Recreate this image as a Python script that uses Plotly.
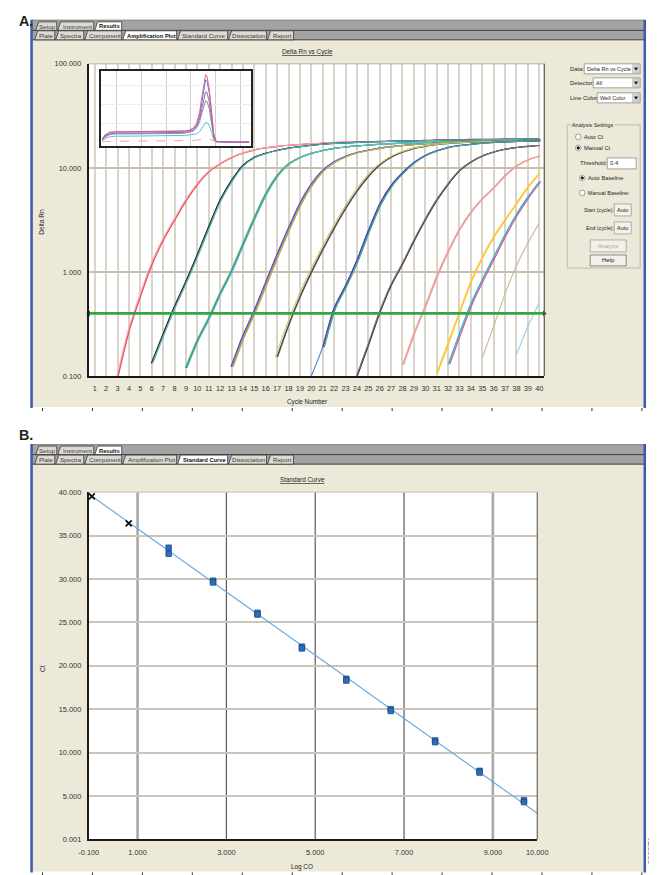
import plotly.graph_objects as go

W, H = 657, 875
FONT = "Liberation Sans, Arial, sans-serif"

# ---------------- data: amplification plot (Delta Rn vs cycle) ----------------
cycle_ticks = list(range(1, 41))
cycle_range = [0.47, 40.44]
threshold_rn = 0.4
rn_ticks = [0.1, 1, 10, 100]
rn_tick_text = ["0.100", "1.000", "10.000", "100.000"]

start_g1 = 3
rn_g1 = [0.10, 0.28, 0.60, 1.20, 2.05, 3.20, 4.90, 7.00, 9.20, 11.0, 12.6, 13.9, 14.9, 15.6,
         16.1, 16.5, 16.8, 17.1, 17.3, 17.5, 17.7, 17.8, 17.9, 18.0, 18.1, 18.2, 18.3, 18.4,
         18.5, 18.6, 18.7, 18.8, 18.8, 18.9, 19.0, 19.0, 19.1, 19.2]
col_g1 = ["#F07C7C", "#E84848", "#F5A3B5"]
dct_g1 = [0.0, 0.06, -0.05]

start_g2 = 6
rn_g2 = [0.133, 0.25, 0.46, 0.80, 1.45, 2.69, 4.85, 7.5, 10.5, 12.6, 13.8, 14.7, 15.5, 16.0,
         16.5, 16.9, 17.2, 17.4, 17.6, 17.8, 17.9, 18.0, 18.1, 18.2, 18.3, 18.4, 18.5, 18.5,
         18.6, 18.7, 18.7, 18.8, 18.8, 18.9, 18.9]
col_g2 = ["#23308A", "#F0A040", "#2E2E2E", "#3CB8C8"]
dct_g2 = [0.0, 0.05, -0.04, 0.08]

start_g3 = 9
rn_g3 = [0.12, 0.22, 0.36, 0.62, 1.03, 1.85, 3.3, 5.6, 8.4, 10.9, 12.6, 13.8, 14.7, 15.4,
         15.9, 16.3, 16.6, 16.9, 17.1, 17.3, 17.5, 17.6, 17.7, 17.8, 17.9, 18.0, 18.0, 18.1,
         18.1, 18.2, 18.2, 18.3]
col_g3 = ["#2A9D9A", "#3858C0", "#60B848", "#5CC0D8"]
dct_g3 = [0.0, 0.05, -0.05, 0.1]

start_g4 = 13
rn_g4 = [0.123, 0.24, 0.42, 0.78, 1.45, 2.6, 4.5, 6.9, 9.4, 11.4, 12.9, 14.0, 14.8, 15.5,
         16.0, 16.4, 16.8, 17.1, 17.3, 17.5, 17.7, 17.9, 18.0, 18.1, 18.2, 18.3, 18.4, 18.5]
col_g4 = ["#5A3C98", "#58B058", "#3A58C8", "#D868A8", "#A8C040"]
dct_g4 = [0.0, 0.1, -0.05, 0.05, 0.15]

start_g5 = 17
rn_g5 = [0.153, 0.31, 0.58, 1.0, 1.65, 2.65, 4.1, 6.0, 8.3, 10.7, 12.7, 14.2, 15.4, 16.2,
         16.8, 17.2, 17.5, 17.7, 17.9, 18.0, 18.1, 18.2, 18.3, 18.4]
col_g5 = ["#3A3A3A", "#6A4A6A", "#B8D060"]
dct_g5 = [0.0, 0.05, -0.15]

start_g6 = 20
rn_g6 = [0.10, 0.19, 0.45, 0.74, 1.3, 2.5, 4.5, 6.8, 9.0, 11.3, 13.2, 14.6, 15.7, 16.4,
         16.9, 17.3, 17.6, 17.8, 18.0, 18.1, 18.2]
col_g6 = ["#4C8CD8", "#3848B0", "#7048A8", "#38B088"]
dct_g6 = [0.0, 0.0, 0.06, 0.15]
skip_g6 = [0, 1, 1, 1]

start_g7 = 24
rn_g7 = [0.10, 0.20, 0.41, 0.75, 1.2, 2.0, 3.2, 4.9, 7.0, 9.4, 11.4, 13.0, 14.2, 15.1,
         15.7, 16.1, 16.4]
col_g7 = ["#1E1E1E", "#4A3452", "#7A7A7A"]
dct_g7 = [0.0, 0.04, -0.04]

start_g8 = 28
rn_g8 = [0.128, 0.26, 0.48, 0.92, 1.6, 2.6, 3.8, 5.1, 6.5, 8.5, 10.5, 12.0, 13.0]
col_g8 = ["#F5B060", "#D8A0D8", "#F29C9C"]
dct_g8 = [0.0, 0.1, 0.05]

start_g9 = 31
rn_g9 = [0.107, 0.21, 0.42, 0.82, 1.4, 2.2, 3.2, 4.6, 6.6, 8.9]
col_g9 = ["#F8D048", "#FFC020"]
dct_g9 = [0.0, 0.08]

start_g10 = 32
rn_g10 = [0.13, 0.26, 0.50, 0.85, 1.4, 2.3, 3.6, 5.3, 7.4]
col_g10 = ["#48C0C8", "#E04898", "#58A8B8"]
dct_g10 = [0.0, 0.15, 0.05]

start_g11 = 35
rn_g11 = [0.15, 0.30, 0.62, 1.15, 1.9, 2.96]
col_g11 = ["#C8B890"]
dct_g11 = [0.0]

start_g12 = 38
rn_g12 = [0.16, 0.30, 0.51]
col_g12 = ["#90D4E0"]
dct_g12 = [0.0]

# ---------------- data: inset (raw signal thumbnail) ----------------
inset_x = [1, 3, 6, 10, 20, 30, 40, 50, 56, 59, 62, 64, 66, 67.5, 69, 70, 71, 72.5, 74, 75.5, 77, 85, 99]
ins_a = [8, 14, 18, 19, 19, 19, 19, 19.5, 20, 21, 24, 30, 45, 65, 85, 95, 92, 75, 45, 15, 6, 5, 5]
ins_b = [9, 15, 18, 18.5, 18.5, 18.5, 18.5, 19, 19.5, 20.5, 23, 28, 40, 58, 78, 88, 86, 70, 42, 14, 6, 5, 5]
ins_c = [8, 13, 16, 17, 17, 17, 17, 17.5, 18, 19, 21, 26, 36, 50, 64, 72, 71, 58, 35, 12, 6, 5, 5]
ins_d = [8, 12, 15, 16, 16, 16, 16, 16.5, 17, 18, 20, 24, 32, 44, 55, 60, 59, 49, 30, 11, 6, 5, 5]
ins_e = [7, 10, 12, 13, 13, 13, 13, 13.5, 14, 14.5, 15, 16, 19, 24, 29, 31, 31, 27, 18, 8, 5, 5, 5]
ins_f = [6, 6, 6.5, 6.5, 6.5, 6.5, 6.5, 6.5, 7, 7, 7, 7.5, 8, 9, 10, 10.5, 10, 9, 8, 6.5, 5.5, 5.5, 5.5]
ins_cols = ["#E0608A", "#5A7FD8", "#9A6AB8", "#8C8C8C", "#5CC0C8", "#F0A0A8"]

# ---------------- data: standard curve ----------------
std_logco = [1.7, 1.7, 2.7, 2.7, 3.7, 3.7, 4.7, 4.7, 5.7, 5.7, 6.7, 6.7, 7.7, 7.7, 8.7, 8.7, 9.7, 9.7]
std_ct = [33.6, 32.9, 29.8, 29.6, 26.1, 25.9, 22.2, 22.0, 18.5, 18.3, 15.0, 14.8, 11.4, 11.2, 7.9, 7.7, 4.5, 4.3]
unk_logco = [-0.03, 0.8]
unk_ct = [39.5, 36.4]
fit_logco = [-0.1, 10.0]
fit_ct = [39.8, 3.0]
ct_ticks = [0.001, 5, 10, 15, 20, 25, 30, 35, 40]
ct_tick_text = ["0.001", "5.000", "10.000", "15.000", "20.000", "25.000", "30.000", "35.000", "40.000"]
logco_ticks = [-0.1, 1, 3, 5, 7, 9, 10]
logco_tick_text = ["-0.100", "1.000", "3.000", "5.000", "7.000", "9.000", "10.000"]
std_grid_dark = [3, 5, 7]
std_grid_light = [1, 9]

# ---------------- layout helpers ----------------
# The photographed page is offset/scaled slightly; positions below are given in
# picture pixels and mapped back to page pixels.
SX, OX = 0.969, 17.2
SY, OY = 0.989, 12.2
FS = 1.025  # font compensation

shapes, annos = [], []


def X(px):
    return ((px - OX) / SX) / W


def Y(py):
    return 1 - ((py - OY) / SY) / H


def rect(x0, y0, x1, y1, fill, line=None, lw=0, layer="below"):
    shapes.append(dict(type="rect", xref="paper", yref="paper", x0=X(x0), x1=X(x1),
                       y0=Y(y1), y1=Y(y0), fillcolor=fill,
                       line=dict(color=line if line else "rgba(0,0,0,0)", width=lw), layer=layer))


def seg(x0, y0, x1, y1, color, lw=1, layer="below"):
    shapes.append(dict(type="line", xref="paper", yref="paper", x0=X(x0), x1=X(x1),
                       y0=Y(y0), y1=Y(y1), line=dict(color=color, width=lw), layer=layer))


def circle(cx, cy, r, fill, line):
    shapes.append(dict(type="circle", xref="paper", yref="paper", x0=X(cx - r), x1=X(cx + r),
                       y0=Y(cy + r), y1=Y(cy - r), fillcolor=fill,
                       line=dict(color=line, width=0.8), layer="below"))


def path(pts, fill, line, lw=0.8):
    d = "M " + " L ".join(f"{X(a):.5f},{Y(b):.5f}" for a, b in pts) + " Z"
    shapes.append(dict(type="path", xref="paper", yref="paper", path=d, fillcolor=fill,
                       line=dict(color=line, width=lw), layer="below"))


def txt(px, py, s, size=6, color="#1E1E1E", xanchor="left", bold=False, angle=0, bg=None,
        under=False, yanchor="middle"):
    f = dict(family=FONT, size=size * FS, color=color)
    if bold:
        f["weight"] = "bold"
    if under:
        f["lineposition"] = "under"
    a = dict(x=X(px), y=Y(py), xref="paper", yref="paper", text=s, showarrow=False,
             xanchor=xanchor, yanchor=yanchor, font=f, textangle=angle, borderpad=0)
    if bg:
        a["bgcolor"] = bg
    annos.append(a)


def tab(x0, x1, yt, yb, label, active):
    path([(x0, yb), (x0 + 3, yt), (x1, yt), (x1, yb)], "#FFFFFF" if active else "#DCDAD2", "#3A3A3A")
    txt((x0 + x1) / 2 + 1.5, (yt + yb) / 2 + 0.3, label, size=5.6 if active else 6.0,
        color="#111111" if active else "#3A3A3A", xanchor="center", bold=active)


def window(top, bottom, active2):
    rect(30, top, 645, bottom, "#ECE9D8")
    rect(31, top, 644, top + 20, "#A3A3A3")
    seg(31, top + 0.5, 644, top + 0.5, "#8A8A7A", 1)
    seg(31, top + 10.5, 644, top + 10.5, "#3C3C3C", 1)
    seg(31, top + 20, 644, top + 20, "#3C3C3C", 1)
    row1 = [("Setup", 35, 56), ("Instrument", 57, 93), ("Results", 94, 121)]
    row2 = [("Plate", 34, 54), ("Spectra", 55, 83), ("Component", 84, 121),
            ("Amplification Plot", 122, 176), ("Standard Curve", 177, 227),
            ("Dissociation", 228, 266), ("Report", 267, 293)]
    for lab, a, b in row1:
        tab(a, b, top + 2, top + 10.5, lab, lab == "Results")
    for lab, a, b in row2:
        tab(a, b, top + 11, top + 20, lab, lab == active2)
    seg(30.8, top, 30.8, bottom + 1, "#3A5BB0", 2.5)
    seg(644.6, top, 644.6, bottom + 1, "#3A5BB0", 2.5)
    for k in range(13):
        xx = 41.7 + 50 * k
        seg(xx, bottom + 1, xx, bottom + 4, "#333333", 1)


# ---------------- chrome ----------------
window(20, 407, "Amplification Plot")
window(444, 871, "Standard Curve")
rect(88, 64, 544, 376, "#FFFFFF")
rect(88, 492, 537, 839, "#FFFFFF")

txt(OX + 0.3, OY + 0.2, "A.", size=14, color="#231F20", bold=True, yanchor="top")
txt(OX + 0.3, 435, "B.", size=14, color="#231F20", bold=True)

txt(306.5, 52, "Delta Rn vs Cycle", size=6.2, xanchor="center", under=True)
txt(41, 222, "Delta Rn", size=6.4, xanchor="center", angle=-90)
txt(306.5, 402, "Cycle Number", size=6.2, xanchor="center")
txt(302, 479, "Standard Curve", size=6.2, xanchor="center", under=True)
txt(41, 668, "Ct", size=6.4, xanchor="center", angle=-90)
txt(301.5, 867, "Log CO", size=6.2, xanchor="center")
txt(651, 850, "8585TA", size=8, color="#7A7A7A", xanchor="center", angle=-90)

# plot-area top/right borders
seg(88, 64, 544, 64, "#B0B0B0", 1, layer="above")
seg(544, 64, 544, 376, "#555555", 1.2, layer="above")
seg(88, 492, 537, 492, "#C8C4B8", 1, layer="above")
seg(537, 492, 537, 839, "#666666", 1.2, layer="above")


# right-hand control panel (panel A)
def dropdown(lab, lx, bx0, cy, value):
    txt(lx, cy, lab, size=5.8)
    rect(bx0, cy - 5, 640, cy + 5, "#FFFFFF", "#8A8A8A", 0.8)
    txt(bx0 + 1.5, cy, value, size=5.4)
    rect(632.5, cy - 4.2, 639.2, cy + 4.2, "#D8D6CE", "#A0A0A0", 0.5)
    path([(634.2, cy - 1.2), (637.6, cy - 1.2), (635.9, cy + 1.6)], "#111111", "#111111", 0.3)


dropdown("Data:", 569, 584, 69, "Delta Rn vs Cycle")
dropdown("Detector:", 569, 593, 83, "All")
dropdown("Line Color:", 569, 597, 98, "Well Color")

rect(567, 125, 640, 268, "rgba(0,0,0,0)", "#BDB9AD", 1)
txt(571, 125, "Analysis Settings", size=5.3, bg="#ECE9D8")
circle(578, 137, 2.8, "#FFFFFF", "#8A8A8A")
txt(583, 137, "Auto Ct", size=5.6)
circle(578, 148, 2.8, "#FFFFFF", "#8A8A8A")
circle(578, 148, 1.2, "#111111", "#111111")
txt(583, 148, "Manual Ct", size=5.6)
txt(579, 163.5, "Threshold:", size=5.6)
rect(607, 158, 636, 169, "#FFFFFF", "#8A8A8A", 0.8)
txt(609, 163.5, "0.4", size=5.8)
circle(582, 178, 2.8, "#FFFFFF", "#8A8A8A")
circle(582, 178, 1.2, "#111111", "#111111")
txt(587, 178, "Auto Baseline", size=5.6)
circle(582, 193, 2.8, "#FFFFFF", "#8A8A8A")
txt(587, 193, "Manual Baseline:", size=5.3)
txt(583, 210, "Start (cycle):", size=5.2)
rect(614, 204, 631, 216, "#F4F2EA", "#9A9A9A", 0.8)
txt(615.5, 210, "Auto", size=5.4)
txt(585, 228, "End (cycle):", size=5.2)
rect(614, 222, 631, 234, "#F4F2EA", "#9A9A9A", 0.8)
txt(615.5, 228, "Auto", size=5.4)
rect(590, 240, 626, 252, "#F2F0E8", "#A0A0A0", 0.8)
txt(608, 246, "Analyze", size=5.6, color="#A8A8A8", xanchor="center")
rect(590, 255, 626, 266, "#F2F0E8", "#707070", 0.8)
txt(608, 260.5, "Help", size=5.8, color="#111111", xanchor="center")

# standard-curve vertical grid lines
for gx in std_grid_dark:
    shapes.append(dict(type="line", xref="x2", yref="y2 domain", x0=gx, x1=gx, y0=0, y1=1,
                       line=dict(color="#5A5A5A", width=1.2), layer="below"))
for gx in std_grid_light:
    shapes.append(dict(type="line", xref="x2", yref="y2 domain", x0=gx, x1=gx, y0=0, y1=1,
                       line=dict(color="#A8A8A8", width=2.6), layer="below"))

# ---------------- traces ----------------
fig = go.Figure()

groups = [
    (start_g1, rn_g1, col_g1, dct_g1, None),
    (start_g2, rn_g2, col_g2, dct_g2, None),
    (start_g3, rn_g3, col_g3, dct_g3, None),
    (start_g4, rn_g4, col_g4, dct_g4, None),
    (start_g5, rn_g5, col_g5, dct_g5, None),
    (start_g6, rn_g6, col_g6, dct_g6, skip_g6),
    (start_g7, rn_g7, col_g7, dct_g7, None),
    (start_g8, rn_g8, col_g8, dct_g8, None),
    (start_g9, rn_g9, col_g9, dct_g9, None),
    (start_g10, rn_g10, col_g10, dct_g10, None),
    (start_g11, rn_g11, col_g11, dct_g11, None),
    (start_g12, rn_g12, col_g12, dct_g12, None),
]
for start, vals, cols, dcts, skips in groups:
    cyc = [start + i for i in range(len(vals))]
    if skips is None:
        skips = [0] * len(cols)
    for col, d, s in zip(cols, dcts, skips):
        fig.add_trace(go.Scatter(x=[c + d for c in cyc[s:]], y=vals[s:], mode="lines",
                                 line=dict(color=col, width=1.1, shape="spline", smoothing=0.7),
                                 xaxis="x", yaxis="y", showlegend=False, hoverinfo="skip"))

# threshold line
fig.add_trace(go.Scatter(x=cycle_range, y=[threshold_rn, threshold_rn], mode="lines",
                         line=dict(color="#34A547", width=2.6), xaxis="x", yaxis="y",
                         showlegend=False, hoverinfo="skip"))
fig.add_trace(go.Scatter(x=cycle_range, y=[threshold_rn, threshold_rn], mode="markers",
                         marker=dict(symbol=["triangle-left", "triangle-right"], size=5, color="#1F5F2A"),
                         xaxis="x", yaxis="y", cliponaxis=False, showlegend=False, hoverinfo="skip"))

# inset
for ys, col, dash in [(ins_f, ins_cols[5], "dash"), (ins_e, ins_cols[4], "solid"),
                      (ins_d, ins_cols[3], "solid"), (ins_c, ins_cols[2], "solid"),
                      (ins_b, ins_cols[1], "solid"), (ins_a, ins_cols[0], "solid")]:
    fig.add_trace(go.Scatter(x=inset_x, y=ys, mode="lines", line=dict(color=col, width=1, dash=dash),
                             xaxis="x3", yaxis="y3", showlegend=False, hoverinfo="skip"))

# standard curve
fig.add_trace(go.Scatter(x=fit_logco, y=fit_ct, mode="lines", line=dict(color="#6FAAE0", width=1.2),
                         xaxis="x2", yaxis="y2", showlegend=False, hoverinfo="skip"))
fig.add_trace(go.Scatter(x=std_logco, y=std_ct, mode="markers",
                         marker=dict(symbol="square", size=5.5, color="#2F6DB8",
                                     line=dict(color="#1C4A88", width=0.8)),
                         xaxis="x2", yaxis="y2", showlegend=False, hoverinfo="skip"))
fig.add_trace(go.Scatter(x=unk_logco, y=unk_ct, mode="markers",
                         marker=dict(symbol="x-thin", size=6, line=dict(color="#111111", width=1.8)),
                         xaxis="x2", yaxis="y2", cliponaxis=False, showlegend=False, hoverinfo="skip"))

tickfont = dict(family=FONT, size=7.2 * FS, color="#333333")
fig.update_layout(
    width=W, height=H, autosize=False,
    margin=dict(l=0, r=0, t=0, b=0),
    paper_bgcolor="#FFFFFF", plot_bgcolor="#FFFFFF",
    font=dict(family=FONT, size=7, color="#222222"),
    hovermode=False, showlegend=False,
    shapes=shapes, annotations=annos,
    xaxis=dict(domain=[X(88), X(544)], range=cycle_range, anchor="y",
               tickmode="array", tickvals=cycle_ticks, ticktext=[str(c) for c in cycle_ticks],
               showgrid=True, gridcolor="#D8D4C9", gridwidth=1.5, zeroline=False,
               showline=True, linecolor="#1A1A1A", linewidth=2, ticks="",
               tickfont=tickfont, ticklabelstandoff=4, fixedrange=True),
    yaxis=dict(domain=[Y(376), Y(64)], type="log", range=[-1, 2], anchor="x",
               tickmode="array", tickvals=rn_ticks, ticktext=rn_tick_text,
               showgrid=True, gridcolor="#C6BFAE", gridwidth=1.5, zeroline=False,
               showline=True, linecolor="#1A1A1A", linewidth=2, ticks="",
               tickfont=tickfont, ticklabelstandoff=4, fixedrange=True),
    xaxis2=dict(domain=[X(88), X(537)], range=[-0.1, 10], anchor="y2",
                tickmode="array", tickvals=logco_ticks, ticktext=logco_tick_text,
                showgrid=False, zeroline=False,
                showline=True, linecolor="#1A1A1A", linewidth=2, ticks="",
                tickfont=tickfont, ticklabelstandoff=5, fixedrange=True),
    yaxis2=dict(domain=[Y(839), Y(492)], range=[0.001, 40], anchor="x2",
                tickmode="array", tickvals=ct_ticks, ticktext=ct_tick_text,
                showgrid=True, gridcolor="#C9C5B9", gridwidth=1.5, zeroline=False,
                showline=True, linecolor="#1A1A1A", linewidth=2, ticks="",
                tickfont=tickfont, ticklabelstandoff=4, fixedrange=True),
    xaxis3=dict(domain=[X(100), X(250)], range=[0, 100], anchor="y3",
                tickmode="array", tickvals=[10.4, 27, 43.6, 60.2, 76.8, 93.4], showticklabels=False,
                showgrid=True, gridcolor="#CFCFCF", gridwidth=1, zeroline=False,
                showline=True, mirror=True, linecolor="#222222", linewidth=1.5, ticks="", fixedrange=True),
    yaxis3=dict(domain=[Y(146), Y(71)], range=[0, 100], anchor="x3",
                tickmode="array", tickvals=[30, 55, 80], showticklabels=False,
                showgrid=True, gridcolor="#EDEDED", gridwidth=1, zeroline=False,
                showline=True, mirror=True, linecolor="#222222", linewidth=1.5, ticks="", fixedrange=True),
)

fig.write_html("out.html")
